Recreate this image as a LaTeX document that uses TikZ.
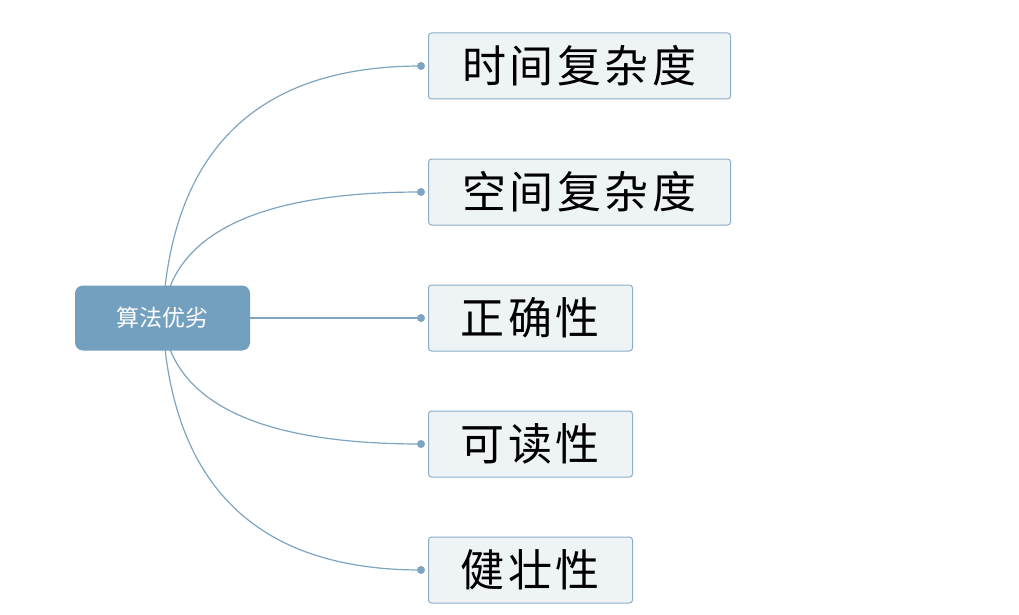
\documentclass[tikz,border=0pt]{standalone}
\usepackage{fontspec}
\newfontfamily\cjk{Noto Sans CJK SC}
\newfontfamily\cjkwide{Noto Sans CJK SC}[LetterSpace=8]
\usetikzlibrary{calc,backgrounds}
\definecolor{rootfill}{RGB}{116,160,192}
\definecolor{linec}{RGB}{125,164,193}
\definecolor{kidfill}{RGB}{238,243,246}
\definecolor{kiddraw}{RGB}{140,174,199}
\begin{document}
\begin{tikzpicture}[x=1pt,y=-1pt,
 rootbox/.style={fill=rootfill, draw=none, rounded corners=8pt, minimum width=175pt, minimum height=65pt, inner sep=0pt, text=white, font=\cjk\fontsize{23}{23}\selectfont},
 kidbox/.style={fill=kidfill, draw=kiddraw, line width=1pt, rounded corners=3pt, minimum height=66pt, inner sep=0pt, font=\cjkwide\fontsize{44}{44}\selectfont, anchor=west},
 conn/.style={draw=linec, line width=1.2pt},
 dotc/.style={circle, fill=linec, inner sep=0pt, minimum size=8pt}]
\useasboundingbox (0,0) rectangle (1019,615);
\node[rootbox] (root) at (162.5,318) {算法优劣};
\node[kidbox, minimum width=302pt] (k1) at (428,66) {时间复杂度};
\node[kidbox, minimum width=302pt] (k2) at (428,192) {空间复杂度};
\node[kidbox, minimum width=204pt] (k3) at (428,318) {正确性};
\node[kidbox, minimum width=204pt] (k4) at (428,444) {可读性};
\node[kidbox, minimum width=204pt] (k5) at (428,570) {健壮性};
\foreach \i in {1,...,5}{
  \node[dotc] (d\i) at ($(k\i.west)+(-7,0)$) {};
}
\begin{scope}[on background layer]
\foreach \i/\yy in {1/66,2/192,4/444,5/570}{
  \draw[conn] (root.center) .. controls ($(root.center)!2/3!(175,\yy)$) and ($(d\i.center)!2/3!(175,\yy)$) .. (d\i.center);
}
\draw[conn] (root.center) -- (d3.center);
\end{scope}
\end{tikzpicture}
\end{document}
